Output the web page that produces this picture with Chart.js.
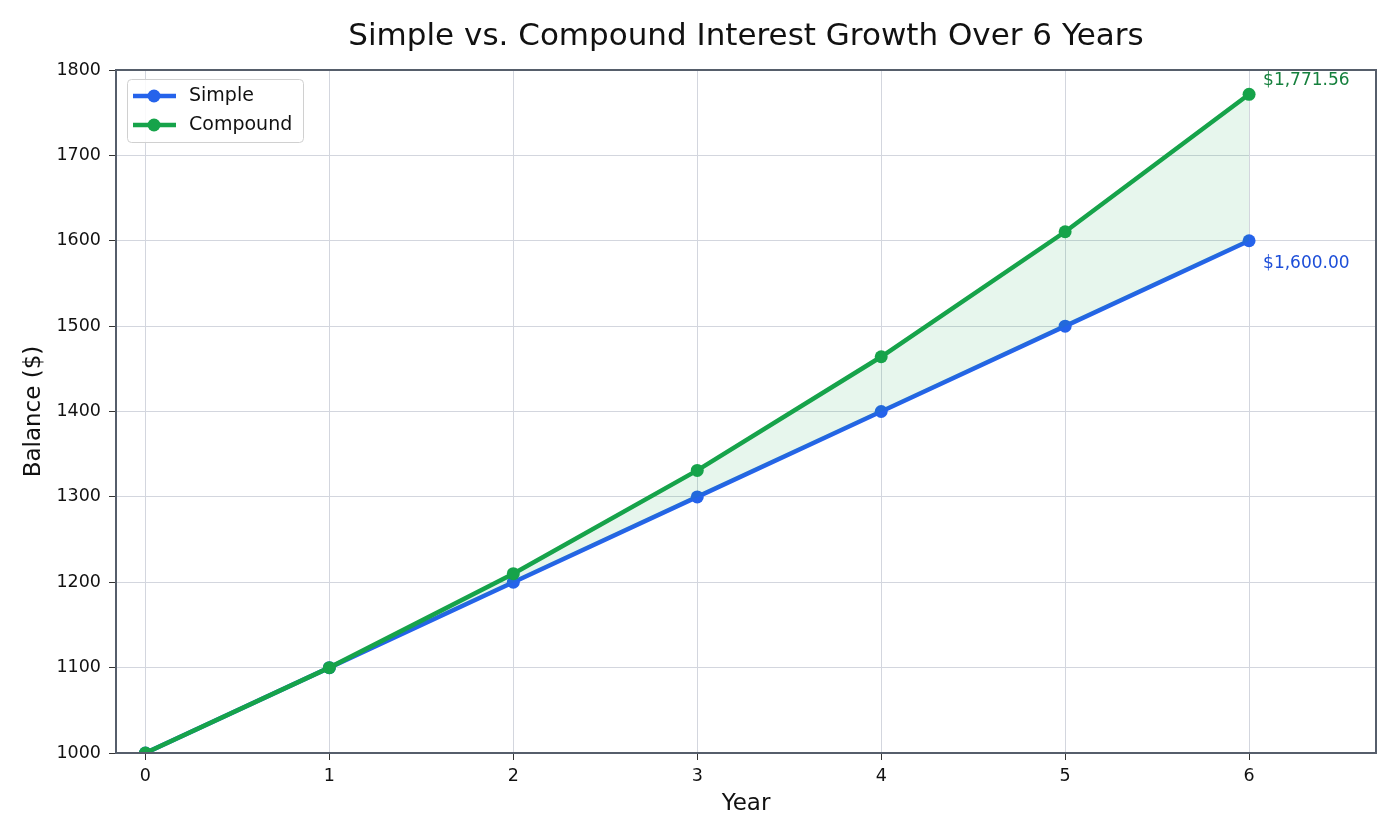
<!DOCTYPE html>
<html>
<head>
<meta charset="utf-8">
<script src="https://cdn.jsdelivr.net/npm/chart.js@4"></script>
<style>
  html, body { margin: 0; padding: 0; background: #fff; }
  #wrap { width: 1400px; height: 840px; }
</style>
</head>
<body>
<div id="wrap"><canvas id="interestChart" width="1400" height="840"></canvas></div>
<script>
// data
var years = [0, 1, 2, 3, 4, 5, 6];
var simpleBalance = [1000, 1100, 1200, 1300, 1400, 1500, 1600];
var compoundBalance = [1000, 1100, 1210, 1331, 1464.1, 1610.51, 1771.56];
var seriesNames = ['Simple', 'Compound'];
var yTicks = [1000, 1100, 1200, 1300, 1400, 1500, 1600, 1700, 1800];
var endLabels = ['$1,600.00', '$1,771.56'];
var titleText = 'Simple vs. Compound Interest Growth Over 6 Years';

var blue = '#2563eb';
var green = '#16a34a';
var FONT = '"DejaVu Sans", sans-serif';

function pts(ys) {
  return years.map(function (x, i) { return { x: x, y: ys[i] }; });
}

// frame, title, legend, axis titles and end labels
var extras = {
  id: 'extras',
  afterDraw: function (chart) {
    var c = chart.ctx, a = chart.chartArea;
    var xs = chart.scales.x, ys = chart.scales.y;
    var cx = (a.left + a.right) / 2;
    c.save();
    // frame
    c.strokeStyle = '#565e6b';
    c.lineWidth = 2;
    c.strokeRect(a.left, a.top, a.right - a.left, a.bottom - a.top);

    c.fillStyle = '#111';
    c.textAlign = 'center';
    c.textBaseline = 'middle';
    c.font = '31px ' + FONT;
    c.fillText(titleText, cx, 37);

    // axis titles
    c.font = '23px ' + FONT;
    c.fillText('Year', cx, 804);
    c.save();
    c.translate(34, (a.top + a.bottom) / 2);
    c.rotate(-Math.PI / 2);
    c.fillText('Balance ($)', 0, 0);
    c.restore();

    // end labels
    c.font = '17px ' + FONT;
    c.textAlign = 'left';
    var last = years.length - 1;
    var px = xs.getPixelForValue(years[last]);
    c.fillStyle = '#1d4ed8';
    c.fillText(endLabels[0], px + 14, ys.getPixelForValue(simpleBalance[last]) + 23);
    c.fillStyle = '#15803d';
    c.fillText(endLabels[1], px + 14, ys.getPixelForValue(compoundBalance[last]) - 14);

    // legend
    var bx = a.left + 11, by = a.top + 9, bw = 176, bh = 63;
    c.fillStyle = 'rgba(255,255,255,0.85)';
    c.strokeStyle = '#d0d0d0';
    c.lineWidth = 1;
    c.beginPath();
    c.roundRect(bx + 0.5, by + 0.5, bw, bh, 4);
    c.fill();
    c.stroke();
    var cols = [blue, green];
    c.font = '19px ' + FONT;
    c.textBaseline = 'middle';
    for (var i = 0; i < seriesNames.length; i++) {
      var ry = by + 17 + i * 29;
      c.strokeStyle = cols[i];
      c.lineWidth = 4.5;
      c.beginPath();
      c.moveTo(bx + 6, ry);
      c.lineTo(bx + 49, ry);
      c.stroke();
      c.fillStyle = cols[i];
      c.beginPath();
      c.arc(bx + 27, ry, 6.5, 0, Math.PI * 2);
      c.fill();
      c.fillStyle = '#111';
      c.fillText(seriesNames[i], bx + 62, ry);
    }
    c.restore();
  }
};

var ctx = document.getElementById('interestChart').getContext('2d');
var chart = new Chart(ctx, {
  type: 'line',
  data: {
    datasets: [{
      label: seriesNames[0],
      data: pts(simpleBalance),
      borderColor: blue,
      backgroundColor: blue,
      borderWidth: 4.5,
      pointRadius: 6.5,
      pointBorderWidth: 0,
      pointBackgroundColor: blue,
      fill: false,
      clip: 0,
      order: 2
    }, {
      label: seriesNames[1],
      data: pts(compoundBalance),
      borderColor: green,
      backgroundColor: 'rgba(22,163,74,0.1)',
      borderWidth: 4.5,
      pointRadius: 6.5,
      pointBorderWidth: 0,
      pointBackgroundColor: green,
      fill: '-1',
      clip: 0,
      order: 1
    }]
  },
  options: {
    responsive: false,
    animation: false,
    events: [],
    layout: { padding: { left: 0, right: 24, top: 70, bottom: 0 } },
    plugins: {
      legend: { display: false },
      tooltip: { enabled: false },
      title: { display: false }
    },
    scales: {
      x: {
        type: 'linear',
        min: -0.16,
        max: 6.69,
        afterBuildTicks: function (s) { s.ticks = years.map(function (v) { return { value: v }; }); },
        afterFit: function (s) { s.height = 87; },
        border: { display: false },
        grid: { color: '#d3d6de', lineWidth: 1, tickLength: 7, tickColor: '#333' },
        ticks: { color: '#111', padding: 6, maxRotation: 0, font: { family: FONT, size: 17.5 } }
      },
      y: {
        min: 1000,
        max: 1800,
        afterBuildTicks: function (s) { s.ticks = yTicks.map(function (v) { return { value: v }; }); },
        afterFit: function (s) { s.width = 116; },
        border: { display: false },
        grid: { color: '#d3d6de', lineWidth: 1, tickLength: 7, tickColor: '#333' },
        ticks: {
          color: '#111', padding: 8, font: { family: FONT, size: 17.5 },
          callback: function (v) { return String(v); }
        }
      }
    }
  },
  plugins: [extras]
});
</script>
</body>
</html>
